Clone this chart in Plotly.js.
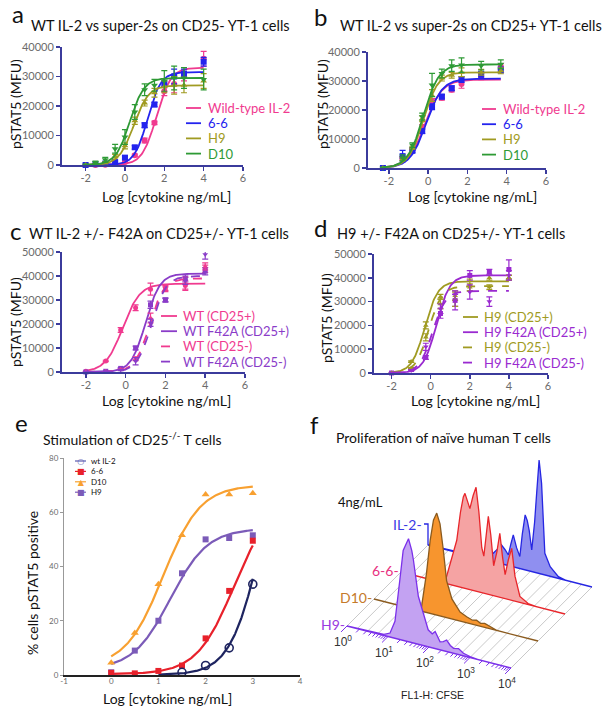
<!DOCTYPE html>
<html><head><meta charset="utf-8">
<script src="https://cdn.plot.ly/plotly-3.0.1.min.js"></script>
<style>html,body{margin:0;padding:0;background:#fff}#chart{width:611px;height:713px}</style>
</head><body><div id="chart"></div><script>
const W=611,H=713;
const FONT='Lato, "Open Sans", sans-serif';
const AX='#3b3b9c', TICKC='#6b6b6b';

// ---------- Panel a data ----------
const aX=[-2,-1.5,-1,-0.5,0,0.5,1,1.5,2,2.5,3,4];
const aWT=[0,0,100,300,1000,3300,8300,14300,25000,27500,30000,36000];
const aWTerr=[0,0,0,200,300,400,800,600,1500,3000,1500,2500];
const a66=[0,300,500,1000,2500,6000,13500,20500,27500,30000,31000,35000];
const a66err=[0,200,200,300,500,600,800,700,1000,2500,1500,1500];
const aH9=[0,300,800,3000,6500,15000,21000,24500,26500,27000,27000,28500];
const aH9err=[0,200,300,600,1000,1200,1000,1500,2000,3000,2500,2500];
const aD10=[0,800,1800,5500,9500,18000,25500,27000,28500,29500,29500,29000];
const aD10err=[0,500,800,1500,2500,2500,2000,2000,3500,4000,3500,3500];
// fit params [bottom, top, logEC50, hill]
const aFitWT=[0,33000,1.6,1.2], aFit66=[0,31500,1.15,1.3], aFitH9=[0,27000,0.45,1.15], aFitD10=[0,29500,0.25,1.2];
const aNames=['Wild-type IL-2','6-6','H9','D10'];

// ---------- Panel b data ----------
const bX=[-2.3,-1.3,-0.8,-0.3,0.2,0.7,1.2,1.7,2.7,3.7];
const bWT=[0,3500,6500,14200,22900,24200,27000,29000,31500,35000];
const bWTerr=[0,500,500,800,1000,800,800,1500,1000,1000];
const b66=[0,4100,5900,12700,21100,24600,27500,30500,32300,33800];
const b66err=[0,2000,500,800,1000,800,800,1000,1000,1000];
const bH9=[0,3000,7000,17000,25000,31000,32000,33000,33000,33500];
const bH9err=[0,500,500,1000,2000,1000,1000,1500,1000,1000];
const bD10=[0,3500,7900,17700,28600,32600,35300,35500,35300,35800];
const bD10err=[0,1000,800,1200,4000,1500,2000,2500,1500,1500];
const bFitWT=[0,30500,-0.15,1.0], bFit66=[0,30800,-0.1,1.05], bFitH9=[0,33000,-0.25,1.15], bFitD10=[0,35700,-0.25,1.1];

// ---------- Panel c data ----------
const cX=[-2,-1,-0.25,0.5,1.25,2,3,4];
const cWTp=[300,4600,17500,26800,34500,35000,36000,43000];
const cWTpErr=[0,300,1000,1200,2500,1000,2000,1500];
const cF42Ap=[0,300,1500,10000,28000,30000,39000,42000];
const cF42ApErr=[0,0,300,800,1500,800,1500,1500];
const cWTm=[0,200,1000,5500,22500,34500,37000,44000];
const cWTmErr=[0,0,200,800,2000,1000,2500,1500];
const cF42Am=[0,200,800,4500,20500,30000,38000,49000];
const cF42AmErr=[0,0,200,1500,1500,800,1500,2000];
const cFitWTp=[0,36800,-0.15,1.0], cFitF42Ap=[0,41000,1.0,1.2], cFitWTm=[0,39000,1.2,1.2], cFitF42Am=[0,40000,1.3,1.2];
const cNames=['WT (CD25+)','WT F42A (CD25+)','WT (CD25-)','WT F42A (CD25-)'];

// ---------- Panel d data ----------
const dX=[-2,-1,-0.25,0.5,1.25,2,3,4];
const dH9p=[0,4800,20000,32000,32500,36000,40000,40000];
const dH9pErr=[0,300,1500,1000,2000,1500,1000,1000];
const dF42Ap=[0,1500,6500,25000,30500,41000,42500,43500];
const dF42ApErr=[0,200,800,2000,2500,2000,1000,4000];
const dH9m=[0,2000,15000,29000,31000,37000,36000,40000];
const dH9mErr=[0,300,1500,2000,3000,2500,1000,1000];
const dF42Am=[0,1000,11000,27000,30500,34000,30000,41000];
const dF42AmErr=[0,300,1500,2000,4000,3000,2000,2000];
const dFitH9p=[0,38500,-0.3,1.3], dFitF42Ap=[0,41000,0.3,1.3], dFitH9m=[0,36500,-0.1,1.3], dFitF42Am=[0,34500,0.1,1.3];
const dNames=['H9 (CD25+)','H9 F42A (CD25+)','H9 (CD25-)','H9 F42A (CD25-)'];

// ---------- Panel e data ----------
const eX=[0,0.5,1,1.5,2,2.5,3];
const eWTx=[1.5,2,2.5,3];
const eWT=[1,3.5,10,33.5];
const e66=[0.8,0.6,1.5,3.5,13.5,31,49.5];
const eD10=[4.5,15.5,33.5,51.5,66.5,66.5,67];
const eH9=[1,9,20,37.5,50,50.5,51.5];
const eFitWT=[0,100,3.2,1.3], eFit66=[0.3,65,2.6,1.1], eFitD10=[3,70,1.1,1.1], eFitH9=[2,54,1.25,1.1];
const eNames=['wt IL-2','6-6','D10','H9'];

// ---------- Panel f data (log10 CFSE in decades, relative counts) ----------
const fLayers=['H9','D10','6-6','IL-2'];
const fH9u=[0,0.9,1.05,1.17,1.29,1.37,1.45,1.5,1.58,1.62,1.74,1.86,1.98,2.08,2.15,2.27,2.35,2.43,2.52,2.6,2.72,2.84,3.0,3.2,4];
const fH9h=[0,1,4,17,60,90,98,103,92,83,48,32,17,14,17,8,9,11.5,7,5,6,2.5,1,0,0];
const fD10u=[0,1.0,1.16,1.28,1.37,1.45,1.53,1.61,1.69,1.77,1.9,2.02,2.1,2.26,2.4,2.5,2.6,2.7,2.83,3.0,4];
const fD10h=[0,0,4.5,39,73,94,102,92,67,37,20,13,9,6,4,5,3,4,2,0,0];
const f66u=[0,1.0,1.11,1.25,1.36,1.45,1.52,1.56,1.62,1.68,1.76,1.83,1.9,1.97,2.02,2.08,2.13,2.19,2.26,2.34,2.41,2.48,2.54,2.62,2.7,2.78,2.9,3.1,3.3,4];
const f66h=[0,0,7,28,46,75,91,95,88,81,95,104,80,45,37,60,78,60,30,45,64,40,24,40,52,25,6,1,0,0];
const fIL2u=[0,1.0,1.3,1.59,1.7,1.79,1.88,1.96,2.02,2.08,2.16,2.24,2.3,2.37,2.42,2.47,2.53,2.6,2.65,2.71,2.77,2.85,2.98,3.18,3.35,4];
const fIL2h=[0,1,4,8.4,14,19,15,10.6,22,32,20,12,35,55,50,40,21.6,50,79.5,113.5,90.7,21.6,9.6,1.7,0,0];
const fTickLabels=['10<sup>0</sup>','10<sup>1</sup>','10<sup>2</sup>','10<sup>3</sup>','10<sup>4</sup>'];

// tick labels
const abXT=[-2,0,2,4,6], abXTL=['-2','0','2','4','6'];
const abYT=[0,10000,20000,30000,40000], abYTL=['0','10000','20000','30000','40000'];
const cdYT=[0,10000,20000,30000,40000,50000], cdYTL=['0','10000','20000','30000','40000','50000'];
const eXT=[-1,0,1,2,3,4], eXTL=['-1','0','1','2','3','4'];
const eYT=[0,20,40,60,80], eYTL=['0','20','40','60','80'];

// ---------- helpers ----------
const PX=p=>p/W, PY=p=>1-p/H;
const traces=[], shapes=[], ann=[];
function fitCurve(p,x0,x1){const xs=[],ys=[];const n=160;for(let i=0;i<=n;i++){const x=x0+(x1-x0)*i/n;xs.push(x);ys.push(p[0]+(p[1]-p[0])/(1+Math.pow(10,p[3]*(p[2]-x))));}return {xs,ys};}
function series(ax,xs,ys,err,fit,x0,x1,color,sym,dash,msize){
  const c=fitCurve(fit,x0,x1);
  traces.push({x:c.xs,y:c.ys,xaxis:'x'+ax,yaxis:'y'+ax,mode:'lines',line:{color:color,width:1.8,dash:dash||'solid'},hoverinfo:'skip',showlegend:false});
  const t={x:xs,y:ys,xaxis:'x'+ax,yaxis:'y'+ax,mode:'markers',marker:{color:color,symbol:sym,size:msize||6,line:{width:0}},showlegend:false,cliponaxis:false};
  if(err) t.error_y={type:'data',array:err,color:color,thickness:1.2,width:3};
  traces.push(t);
}
function legend(names,colors,dashes,lx0,lx1,tx,y0,dy,size){
  names.forEach((n,i)=>{
    const y=y0+i*dy;
    shapes.push({type:'line',xref:'paper',yref:'paper',x0:PX(lx0),x1:PX(lx1),y0:PY(y),y1:PY(y),line:{color:colors[i],width:1.8,dash:dashes[i]}});
    ann.push({xref:'paper',yref:'paper',x:PX(tx),y:PY(y),xanchor:'left',yanchor:'middle',text:n,showarrow:false,borderpad:0,font:{family:FONT,size:size,color:colors[i]}});
  });
}
function txt(x,y,t,size,opts){ann.push(Object.assign({xref:'paper',yref:'paper',x:PX(x),y:PY(y),xanchor:'center',yanchor:'middle',text:t,showarrow:false,font:{family:FONT,size:size,color:'#111'}},opts||{}));}
function axes(n,xpx,ypx,xr,yr,xt,xtl,yt,ytl,style){
  const s=style||{};
  const base={showgrid:false,zeroline:false,showline:true,linecolor:s.lc||AX,linewidth:s.lw||2,ticks:'outside',tickcolor:s.tc||AX,ticklen:s.tl||4,tickwidth:1.5,tickfont:{family:FONT,size:s.fs||11,color:TICKC},fixedrange:true};
  const xs=n===1?'':n, key='xaxis'+xs, ykey='yaxis'+xs;
  layout[key]=Object.assign({},base,{domain:[PX(xpx[0]),PX(xpx[1])],range:xr,tickvals:xt,ticktext:xtl,anchor:'y'+xs,ticklabelstandoff:-2},s.x||{});
  layout[ykey]=Object.assign({},base,{domain:[PY(ypx[1]),PY(ypx[0])],range:yr,tickvals:yt,ticktext:ytl,anchor:'x'+xs},s.y||{});
}
const layout={width:W,height:H,margin:{l:0,r:0,t:0,b:0},paper_bgcolor:'#fff',plot_bgcolor:'rgba(0,0,0,0)',showlegend:false};

const PINK='#f03a8f', BLUE='#2323ee', OLIVE='#a09b22', GREEN='#2e9a35', PURC='#8a3cc8', PURD='#9a2ad0';
const LEGFS=13, LEGDY=15.2;

// ---------- Panel a ----------
axes(1,[62,243],[47,165],[-3.2,6],[0,40000],abXT,abXTL,abYT,abYTL);
series(1,aX,aWT,aWTerr,aFitWT,-2,4,PINK,'circle');
series(1,aX,a66,a66err,aFit66,-2,4,BLUE,'square');
series(1,aX,aH9,aH9err,aFitH9,-2,4,OLIVE,'triangle-up');
series(1,aX,aD10,aD10err,aFitD10,-2,4,GREEN,'triangle-down');
legend(aNames,[PINK,BLUE,OLIVE,GREEN],['solid','solid','solid','solid'],186,201,207,108,LEGDY,LEGFS);
txt(10,14,'a',24,{xanchor:'left'}); txt(160,25,'WT IL-2 vs super-2s on CD25- YT-1 cells',14.5);
txt(15,104,'pSTAT5 (MFU)',14,{textangle:-90}); txt(166,196,'Log [cytokine ng/mL]',14);

// ---------- Panel b ----------
axes(2,[368,546],[52,168],[-3.06,6],[0,40000],abXT,abXTL,abYT,abYTL);
series(2,bX,bWT,bWTerr,bFitWT,-2.3,3.7,PINK,'circle');
series(2,bX,b66,b66err,bFit66,-2.3,3.7,BLUE,'square');
series(2,bX,bH9,bH9err,bFitH9,-2.3,3.7,OLIVE,'triangle-up');
series(2,bX,bD10,bD10err,bFitD10,-2.3,3.7,GREEN,'triangle-down');
legend(aNames,[PINK,BLUE,OLIVE,GREEN],['solid','solid','solid','solid'],482,496,502,109,LEGDY,LEGFS);
txt(312,16,'b',24,{xanchor:'left'}); txt(471,25,'WT IL-2 vs super-2s on CD25+ YT-1 cells',14.5);
txt(322,104,'pSTAT5 (MFU)',14,{textangle:-90}); txt(472,196,'Log [cytokine ng/mL]',14);

// ---------- Panel c ----------
axes(3,[62,245],[252,372],[-3.2,6],[0,50000],abXT,abXTL,cdYT,cdYTL);
series(3,cX,cWTp,cWTpErr,cFitWTp,-2,4,PINK,'circle',null,5);
series(3,cX,cF42Ap,cF42ApErr,cFitF42Ap,-2,4,PURC,'square',null,5);
series(3,cX,cWTm,cWTmErr,cFitWTm,-2,4,PINK,'triangle-up','dash',5);
series(3,cX,cF42Am,cF42AmErr,cFitF42Am,-2,4,PURC,'triangle-down','dash',5);
legend(cNames,[PINK,PURC,PINK,PURC],['solid','solid','dash','dash'],161,177,182,316,LEGDY,LEGFS);
txt(8,231,'c',24,{xanchor:'left'}); txt(159,233,'WT IL-2 +/- F42A on CD25+/- YT-1 cells',14.5);
txt(15,322,'pSTAT5 (MFU)',14,{textangle:-90}); txt(166,400,'Log [cytokine ng/mL]',14);

// ---------- Panel d ----------
axes(4,[374,548],[254,373],[-2.9,6],[0,50000],abXT,abXTL,cdYT,cdYTL);
series(4,dX,dH9p,dH9pErr,dFitH9p,-2,4,OLIVE,'triangle-up',null,5);
series(4,dX,dF42Ap,dF42ApErr,dFitF42Ap,-2,4,PURD,'square',null,5);
series(4,dX,dH9m,dH9mErr,dFitH9m,-2,4,OLIVE,'triangle-up','dash',5);
series(4,dX,dF42Am,dF42AmErr,dFitF42Am,-2,4,PURD,'triangle-down','dash',5);
legend(dNames,[OLIVE,PURD,OLIVE,PURD],['solid','solid','dash','dash'],463,478,483,317,LEGDY,LEGFS);
txt(312,227,'d',24,{xanchor:'left'}); txt(451,233,'H9 +/- F42A on CD25+/- YT-1 cells',14.5);
txt(327,318,'pSTAT5 (MFU)',14,{textangle:-90}); txt(475,400,'Log [cytokine ng/mL]',14);

// ---------- Panel e ----------
const NAVY='#1e2460', RED='#e8212b', ORANGE='#f8a030', PURE='#7b5bb8';
axes(5,[64,300],[458,675],[-1,4],[0,80],eXT,eXTL,eYT,eYTL,{fs:8,tl:3,x:{linecolor:'#222',linewidth:2,ticks:'',ticklabelstandoff:-3},y:{linecolor:'#999',linewidth:1,tickcolor:'#999',tickwidth:1}});
{
  const c1=fitCurve(eFitD10,0,3), c2=fitCurve(eFitH9,0,3), c3=fitCurve(eFit66,0,3), c4=fitCurve(eFitWT,1,3);
  [[c1,ORANGE],[c2,PURE],[c3,RED],[c4,NAVY]].forEach(([c,col])=>traces.push({x:c.xs,y:c.ys,xaxis:'x5',yaxis:'y5',mode:'lines',line:{color:col,width:2.2},showlegend:false,hoverinfo:'skip'}));
  traces.push({x:eX,y:eD10,xaxis:'x5',yaxis:'y5',mode:'markers',marker:{color:ORANGE,symbol:'triangle-up',size:7},showlegend:false,cliponaxis:false});
  traces.push({x:eX,y:eH9,xaxis:'x5',yaxis:'y5',mode:'markers',marker:{color:PURE,symbol:'square',size:6},showlegend:false,cliponaxis:false});
  traces.push({x:eX,y:e66,xaxis:'x5',yaxis:'y5',mode:'markers',marker:{color:RED,symbol:'square',size:6},showlegend:false,cliponaxis:false});
  traces.push({x:eWTx,y:eWT,xaxis:'x5',yaxis:'y5',mode:'markers',marker:{color:NAVY,symbol:'circle-open',size:8,line:{width:1.6,color:NAVY}},showlegend:false,cliponaxis:false});
  const eCols=['#5a5ab0',RED,ORANGE,PURE], eSyms=['○','■','▲','■'];
  const eFs=8, ePitch=eFs*1.3, eTop=461;
  const eMid=eTop+ePitch*(eNames.length-1)/2;
  eNames.forEach((n,i)=>{const y=eTop+i*ePitch;
    shapes.push({type:'line',xref:'paper',yref:'paper',x0:PX(75),x1:PX(86),y0:PY(y),y1:PY(y),line:{color:eCols[i],width:1.2}});
  });
  txt(80.5,eMid,eSyms.map((s,i)=>'<span style="color:'+eCols[i]+'">'+s+'</span>').join('<br>'),eFs,{font:{family:'DejaVu Sans',size:eFs,color:'#333'}});
  txt(89,eMid,eNames.join('<br>'),eFs,{xanchor:'left',align:'left',font:{family:FONT,size:eFs,color:'#111'}});
}
txt(13,423,'e',24,{xanchor:'left'}); txt(132,438,'Stimulation of CD25<sup>-/-</sup> T cells',14);
txt(32,583,'% cells pSTAT5 positive',14,{textangle:-90}); txt(167,698,'Log [cytokine ng/mL]',14);

// ---------- Panel f (pseudo-3D offset histograms) ----------
layout.xaxis6={domain:[PX(300),1],range:[300,611],visible:false,fixedrange:true,anchor:'y6'};
layout.yaxis6={domain:[0,PY(430)],range:[713,430],visible:false,fixedrange:true,anchor:'x6'};
const F0=[347,626], FD=[41,10.5], FL=[27,-27];
const fp=(u,l,h)=>[F0[0]+u*FD[0]+l*FL[0], F0[1]+u*FD[1]+l*FL[1]-h];
{
  const gx=[],gy=[];
  for(let k=0;k<=16;k++){const u=k/4;const a=fp(u,0,0),b=fp(u,3,0);gx.push(a[0],b[0],null);gy.push(a[1],b[1],null);}
  traces.push({x:gx,y:gy,xaxis:'x6',yaxis:'y6',mode:'lines',line:{color:'#c9c9c9',width:1},showlegend:false,hoverinfo:'skip'});
  const hist=[[fIL2u,fIL2h,3,'#8f8ff0','#2626e2'],[f66u,f66h,2,'#f5a3a3','#e8262b'],[fD10u,fD10h,1,'#f7952e','#8a5a1e'],[fH9u,fH9h,0,'#c3a2f2','#7b30ea']];
  hist.forEach(([us,hs,l,fill,line])=>{
    const xs=[],ys=[];us.forEach((u,i)=>{const p=fp(u,l,hs[i]);xs.push(p[0]);ys.push(p[1]);});
    const s=fp(0,l,0);xs.push(s[0]);ys.push(s[1]);
    traces.push({x:xs,y:ys,xaxis:'x6',yaxis:'y6',mode:'lines',fill:'toself',fillcolor:fill,line:{color:line,width:1.3},showlegend:false,hoverinfo:'skip'});
  });
  const s3=fp(0,3,0);
  traces.push({x:[s3[0]-4,s3[0],s3[0]],y:[s3[1]-21,s3[1]-21,s3[1]],xaxis:'x6',yaxis:'y6',mode:'lines',line:{color:'#2626e2',width:1.3},showlegend:false,hoverinfo:'skip'});
  const tx=[],ty=[];
  for(let k=0;k<4;k++){for(let m=1;m<10;m++){const u=k+Math.log10(m);const a=fp(u,0,0);const f=m===1?0.22:0.12;tx.push(a[0],a[0]-FL[0]*f,null);ty.push(a[1],a[1]-FL[1]*f,null);}}
  {const a=fp(4,0,0);tx.push(a[0],a[0]-FL[0]*0.22);ty.push(a[1],a[1]-FL[1]*0.22);}
  traces.push({x:tx,y:ty,xaxis:'x6',yaxis:'y6',mode:'lines',line:{color:'#7b30ea',width:1},showlegend:false,hoverinfo:'skip'});
  fTickLabels.forEach((t,k)=>{const a=fp(k,0,0);ann.push({xref:'x6',yref:'y6',x:a[0]-4,y:a[1]+15,text:t,showarrow:false,xanchor:'center',yanchor:'middle',font:{family:'Liberation Sans, Arial, sans-serif',size:12,color:'#333'}});});
  const lcols=['#9a3ae0','#c57a2a','#e8307f','#3a3ae6'];
  const lnames=['H9-','D10-','6-6-','IL-2-'];
  lnames.forEach((n,l)=>{const a=fp(0,l,0);const yo=l===3?-21:-2;const xo=l===3?-4:0;ann.push({xref:'x6',yref:'y6',x:a[0]+xo,y:a[1]+yo,text:n,showarrow:false,xanchor:'right',yanchor:'middle',font:{family:FONT,size:14,color:lcols[l]}});});
}
txt(336,502,'4ng/mL',13,{xanchor:'left'});
txt(432,695,'FL1-H: CFSE',10.5,{font:{family:'Liberation Sans, Arial, sans-serif',size:10.5,color:'#222'}});
txt(308,424,'f',24,{xanchor:'left'}); txt(443,437,'Proliferation of naïve human T cells',14);

layout.shapes=shapes; layout.annotations=ann;
Plotly.newPlot('chart',traces,layout,{staticPlot:true,displayModeBar:false});
</script></body></html>
